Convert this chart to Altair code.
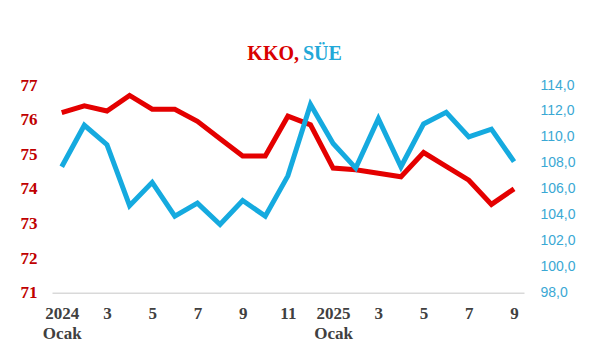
import json
import altair as alt
import pandas as pd

# --- data ---------------------------------------------------------------
month_index = list(range(21))  # 2024 Ocak .. 2025 Eylül
kko = [76.2, 76.4, 76.25, 76.7, 76.3, 76.3, 75.95, 75.45, 74.95, 74.95, 76.1,
       75.85, 74.6, 74.55, 74.45, 74.35, 75.05, 74.65, 74.25, 73.55, 74.0]
sue = [107.7, 110.9, 109.4, 104.7, 106.5, 103.9, 104.9, 103.25, 105.1, 103.9,
       107.0, 112.5, 109.5, 107.6, 111.4, 107.7, 111.0, 111.9, 110.0, 110.6, 108.1]
tick_positions = [0, 2, 4, 6, 8, 10, 12, 14, 16, 18, 20]
tick_labels = [["2024", "Ocak"], ["3"], ["5"], ["7"], ["9"], ["11"],
               ["2025", "Ocak"], ["3"], ["5"], ["7"], ["9"]]
left_ticks = [71, 72, 73, 74, 75, 76, 77]
right_ticks = [98, 100, 102, 104, 106, 108, 110, 112, 114]
title_parts = ["KKO,", "SÜE"]

RED = "#e40000"
RED_LBL = "#c00000"
BLUE = "#15aadf"
BLUE_LBL = "#3aa8d4"

df = pd.DataFrame({"i": month_index, "kko": kko, "sue": sue})

label_map = json.dumps(tick_labels, ensure_ascii=False)

x_enc = alt.X(
    "i:Q",
    scale=alt.Scale(domain=[-0.43, 20.44], nice=False, zero=False),
    axis=alt.Axis(
        values=tick_positions,
        labelExpr=f"{label_map}[round(datum.value/2)]",
        labelFont="Liberation Serif",
        labelFontWeight="bold",
        labelFontSize=17,
        labelColor="#404040",
        labelPadding=13,
        labelLineHeight=20,
        labelOverlap=False,
        labelBound=False,
        ticks=False,
        grid=False,
        domainColor="#d9d9d9",
        domainWidth=1.5,
        title=None,
    ),
)

base = alt.Chart(df)

red_line = base.mark_line(color=RED, strokeWidth=5, strokeJoin="miter").encode(
    x=x_enc,
    y=alt.Y(
        "kko:Q",
        scale=alt.Scale(domain=[71, 77], nice=False, zero=False),
        axis=alt.Axis(
            orient="left",
            values=left_ticks,
            format="d",
            labelFont="Liberation Serif",
            labelFontWeight="bold",
            labelFontSize=17,
            labelColor=RED_LBL,
            labelPadding=15,
            domain=False,
            ticks=False,
            grid=False,
            title=None,
        ),
    ),
)

blue_line = base.mark_line(color=BLUE, strokeWidth=5, strokeJoin="miter").encode(
    x=alt.X("i:Q"),
    y=alt.Y(
        "sue:Q",
        scale=alt.Scale(domain=[98, 114], nice=False, zero=False),
        axis=alt.Axis(
            orient="right",
            values=right_ticks,
            labelExpr="replace(format(datum.value, '.1f'), '.', ',')",
            labelFont="Liberation Sans",
            labelFontSize=14,
            labelColor=BLUE_LBL,
            labelPadding=16,
            domain=False,
            ticks=False,
            grid=False,
            title=None,
        ),
    ),
)

title_red = alt.Chart(pd.DataFrame({"t": [title_parts[0]]})).mark_text(
    font="Liberation Serif", fontWeight="bold", fontSize=20, color="#d90000",
    align="right", baseline="middle",
).encode(x=alt.value(247), y=alt.value(-31), text="t:N")

title_blue = alt.Chart(pd.DataFrame({"t": [title_parts[1]]})).mark_text(
    font="Liberation Serif", fontWeight="bold", fontSize=20, color="#22a8d8",
    align="left", baseline="middle",
).encode(x=alt.value(251), y=alt.value(-31), text="t:N")

chart = (
    alt.layer(red_line, blue_line, title_red, title_blue)
    .resolve_scale(y="independent")
    .properties(
        width=472,
        height=207.7,
        autosize=alt.AutoSizeParams(type="none"),
        padding={"left": 52, "top": 85, "right": 76, "bottom": 62.3},
        background="white",
    )
    .configure_view(stroke=None)
)

chart.save("out.html", embed_options={"renderer": "svg", "actions": False})
